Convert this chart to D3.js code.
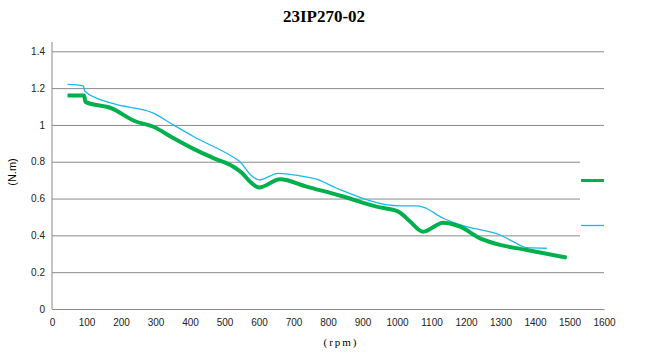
<!DOCTYPE html>
<html><head><meta charset="utf-8">
<script src="https://cdn.jsdelivr.net/npm/d3@7"></script>
<style>body{margin:0;background:#fff}svg{display:block}</style>
</head><body>
<svg id="c" width="648" height="361"></svg>
<script>
const title = "23IP270-02";
const yTicks = [0, 0.2, 0.4, 0.6, 0.8, 1, 1.2, 1.4];
const xTicks = [0,100,200,300,400,500,600,700,800,900,1000,1100,1200,1300,1400,1500,1600];
const greenRpm = [45, 93, 97, 173, 241, 294, 350, 410, 468, 526, 550, 575, 600, 661, 738, 844, 941, 1004, 1038, 1076, 1134, 1183, 1241, 1299, 1376, 1492];
const greenVal = [1.16, 1.16, 1.125, 1.09, 1.02, 0.99, 0.93, 0.87, 0.82, 0.773, 0.74, 0.69, 0.66, 0.705, 0.665, 0.611, 0.556, 0.529, 0.475, 0.42, 0.469, 0.447, 0.384, 0.348, 0.321, 0.279];
const blueRpm = [45, 91, 95, 173, 294, 352, 410, 526, 545, 575, 600, 656, 719, 767, 825, 1009, 1060, 1076, 1134, 1202, 1299, 1337, 1376, 1434];
const blueVal = [1.22, 1.212, 1.183, 1.118, 1.064, 1.0, 0.937, 0.824, 0.80, 0.73, 0.701, 0.737, 0.723, 0.705, 0.656, 0.56, 0.56, 0.553, 0.493, 0.447, 0.402, 0.366, 0.333, 0.33];

const svg = d3.select("#c");
const x = d3.scaleLinear().domain([0,1600]).range([52,604]);
const y = d3.scaleLinear().domain([0,1.4]).range([309,51.3]);

svg.append("text").attr("x",324).attr("y",22).attr("text-anchor","middle")
  .attr("font-family","Liberation Serif, serif").attr("font-weight","bold").attr("font-size",17)
  .text(title);

// gridlines
const gy = d3.axisLeft(y).tickValues(yTicks).tickSize(-(604-52)).tickFormat(d=>d3.format("")(d)).tickPadding(7);
const gAxis = svg.append("g").attr("transform","translate(52,0)").call(gy);
gAxis.select(".domain").remove();
gAxis.selectAll(".tick line").attr("stroke","#8a8a8a").attr("stroke-width",1);
gAxis.selectAll(".tick text").attr("font-family","Liberation Sans, Arial, sans-serif").attr("font-size",10).attr("fill","#222");

// y axis line
svg.append("line").attr("x1",52).attr("x2",52).attr("y1",42).attr("y2",309).attr("stroke","#8a8a8a");

const gx = d3.axisBottom(x).tickValues(xTicks).tickSize(0).tickPadding(10).tickFormat(d3.format(""));
const xa = svg.append("g").attr("transform","translate(0,309)").call(gx);
xa.select(".domain").attr("stroke","#8a8a8a");
xa.selectAll(".tick text").attr("font-family","Liberation Sans, Arial, sans-serif").attr("font-size",10).attr("fill","#222");

svg.append("text").attr("transform","translate(16,172) rotate(-90)").attr("text-anchor","middle")
  .attr("font-family","Liberation Sans, Arial, sans-serif").attr("font-size",11).text("(N.m)");
svg.append("text").attr("x",341).attr("y",346).attr("text-anchor","middle")
  .attr("font-family","Liberation Serif, serif").attr("font-size",11).attr("letter-spacing","2px").text("(rpm)");

const line = d3.line().x(d=>x(d[0])).y(d=>y(d[1])).curve(d3.curveMonotoneX);
svg.append("path").datum(blueRpm.map((r,i)=>[r,blueVal[i]])).attr("d",line)
  .attr("fill","none").attr("stroke","#1ab8ee").attr("stroke-width",1.3);
svg.append("path").datum(greenRpm.map((r,i)=>[r,greenVal[i]])).attr("d",line)
  .attr("fill","none").attr("stroke","#00b04c").attr("stroke-width",4);

// legend box (covers gridlines)
svg.append("rect").attr("x",580).attr("y",145).attr("width",68).attr("height",103).attr("fill","#fff");
svg.append("line").attr("x1",581).attr("x2",604).attr("y1",180.5).attr("y2",180.5).attr("stroke","#00b04c").attr("stroke-width",3);
svg.append("line").attr("x1",581).attr("x2",604).attr("y1",225.5).attr("y2",225.5).attr("stroke","#1ab8ee").attr("stroke-width",1.3);
</script>
</body></html>
